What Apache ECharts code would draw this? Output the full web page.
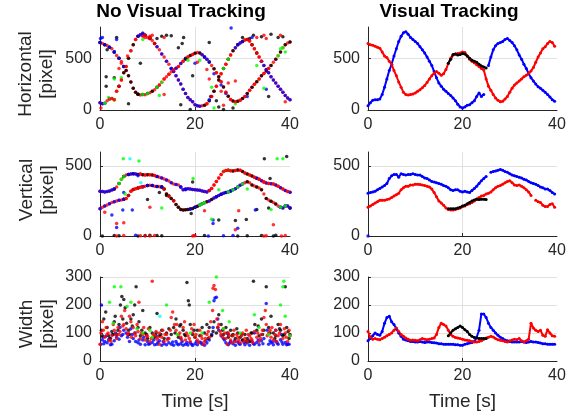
<!DOCTYPE html>
<html>
<head>
<meta charset="utf-8">
<script src="https://cdn.jsdelivr.net/npm/echarts@6/dist/echarts.min.js"></script>
<style>
html, body { margin: 0; padding: 0; background: #fff; }
#chart { width: 575px; height: 417px; }
</style>
</head>
<body>
<div id="chart"></div>
<script>
// time grid (s), every 0.5 s
var T = [0,0.5,1,1.5,2,2.5,3,3.5,4,4.5,5,5.5,6,6.5,7,7.5,8,8.5,9,9.5,10,10.5,11,11.5,12,12.5,13,13.5,14,14.5,15,15.5,16,16.5,17,17.5,18,18.5,19,19.5,20,20.5,21,21.5,22,22.5,23,23.5,24,24.5,25,25.5,26,26.5,27,27.5,28,28.5,29,29.5,30,30.5,31,31.5,32,32.5,33,33.5,34,34.5,35,35.5,36,36.5,37,37.5,38,38.5,39,39.5,40];
var T_BLACK = [17,17.5,18,18.5,19,19.5,20,20.5,21,21.5,22,22.5,23,23.5,24,24.5,25];
var xTicks = [0, 20, 40];
var ticksH = [0, 500];
var ticksV = [0, 500];
var ticksW = [0, 100, 200, 300];

// ---- No visual tracking: two people, detections of 4 colours ----
var hA = [650,640,630,622,605,590,560,525,500,468, 420,380,330,270,210,172,152,145,150,148,
          160,166,180,196,220,240,268,298,320,345, 368,385,402,420,448,470,490,510,525,536,
          546,555,550,532,512,490,462,430,398,360, 320,272,222,172,132,102,86,80,84,95,
          110,130,160,190,220,248,272,300,330,352, 376,400,430,460,490,522,560,600,630,646, 655];
var hB = [70,60,65,90,105,110,100,180,230,290, 360,420,500,570,630,680,710,725,740,720,
          700,690,670,640,610,580,540,510,470,440, 400,370,330,290,250,200,160,120,100,80,
          50,40,35,40,45,60,90,130,180,230, 290,350,400,440,490,530,570,600,630,645,
          660,675,680,665,630,590,550,510,470,430, 390,360,320,290,260,230,200,170,140,115, 100];
var vU = [320,318,315,318,322,328,335,350,375,405, 425,435,440,442,445,443,440,442,438,435,
          437,438,436,432,425,420,415,408,400,392, 380,372,368,365,350,330,335,338,335,332,
          330,328,326,322,318,315,325,340,365,390, 415,440,460,468,470,466,464,468,472,470,
          460,450,442,435,428,420,412,405,395,385, 378,375,374,372,365,355,345,335,325,318, 312];
var vL = [195,205,215,222,230,240,245,250,255,258, 262,268,290,320,332,338,342,348,352,355,
          360,362,360,356,354,352,350,335,300,285, 268,252,225,205,190,185,188,190,192,196,
          205,212,222,230,238,245,250,260,272,280, 290,298,305,310,315,322,330,338,350,362,
          372,380,388,380,365,358,350,342,330,300, 268,258,248,240,228,215,205,200,215,215, 200];

// which detector colour sits on which stretch of each trace: [trace, from, to, every n samples]
var topRedAll   = [['A',0,40,1],['B',0,40,1]];
var topBlackSeg = [['A',0,4,2],['A',5,8,1],['A',8,12,2],['A',19,23,2],['A',24,40,2],['B',4,8,2],['B',9.5,12,2],
                   ['B',22,33,2]];
var topBlueSeg  = [['A',0,3,2],['A',3,5,2],['B',0,1,1],['B',8,9.5,1],['B',12,15,2],['B',15,21,1],['A',21.5,23,1],
                   ['B',28.5,30,1],['B',34,40,1],['A',16,18,2]];
var topGreenSeg = [['B',1,3,2],['A',37.5,39,2],['A',12,13,2],['B',26,27,2],['A',9,10,2]];
var topRedFront = [['A',12.5,20,2],['B',2,4,1],['A',24.5,36,2],['B',22.5,28,2],['B',30.5,34,1],['B',4.5,8,2],['B',9.5,12,2]];

var topBlackOut = [[1.3,320],[1.3,230],[1.5,580],[3.5,700],[8.5,450],[10.5,700],[12,690],[13,710],[14,720],[15,715],
                   [16.5,600],[17.3,640],[17.6,700],[18,500],[19.5,330],[23,650],[23.3,130],[24.5,90],[25,30],[28,20],
                   [30,700],[31.5,690],[32.3,720],[34,705],[36,730],[37.5,700],[38.5,705],[17,50],[19,5],[26,5],
                   [3,310],[35.5,130],[6,60]];
var topRedOut   = [[4,400],[4.5,450],[9,710],[9.5,700],[10.5,712],[11,720],[13.5,700],[20.5,460],[22.5,390],[23,300],
                   [25.5,180],[27,260],[28.5,280],[33,700],[34.5,720],[35,690],[38,720],[39,80],[26,45],[13.5,150],
                   [5.8,520],[0.2,20]];
var topBlueOut  = [[0.5,700],[20,450],[27.6,790],[23,100],[25.5,240],[32,700],[9,720],[26.5,160],[24,350],[35,200],
                   [3.5,680],[31,130],[0.1,690]];
var topGreenOut = [[1.8,120],[3,300],[4.5,310],[9,680],[18.5,480],[21,480],[24,20],[28.5,60],[33,430],[34.5,210],
                   [38,590],[39,560],[12.5,140],[23.5,220]];
var topCyanOut  = [[2.2,110]];

var midRedAll   = [['U',0,40,1],['L',0,40,1]];
var midBlackSeg = [['U',3,5,2],['U',5,12,2],['U',27,33,2],['L',5,13,2],['L',13,20,1],['L',20.5,28,2],['L',31,40,2]];
var midBlueSeg  = [['U',0,3,1],['U',6,8,1],['U',12,17,2],['U',17,23,1],['U',33,40,2],['L',0,5,2],['L',9,13,2],
                   ['L',19,23,2],['L',24,30,1],['L',38,40,1]];
var midGreenSeg = [['L',27,30,2],['U',4,5,1],['L',38,39.5,2],['U',26,27,2],['L',21,22,1]];
var midRedFront = [['U',23,27,1],['L',13.5,16,2],['U',27.5,35,2],['L',5.5,9,1],['U',8.5,12,2],['U',33.5,40,2]];

var midBlackOut = [[0.5,0],[3,3],[4,2],[8,0],[9.5,3],[10.5,5],[12,3],[13,2],[22,3],[29,0],[31,2],[34,3],[36.5,0],[37,5],
                   [34.6,552],[39.3,568],[19.5,385],[19.2,160],[25,115],[28.5,110],[30.8,118],[35.5,200],[35.8,410],
                   [10,260],[33,190],[14,290],[12.5,310]];
var midRedOut   = [[3.5,0],[5,3],[8.5,2],[9.5,0],[10.5,0],[11.5,3],[19.5,0],[19.8,3],[20,2],[34.5,0],[35,2],[38.2,0],[39,3],
                   [3.5,90],[10.5,205],[28.5,45],[36.5,80],[22,180],[5,95],[29.2,180],[1,170]];
var midBlueOut  = [[22.8,0],[26,2],[28,3],[7.5,5],[2.5,150],[4.8,185],[6.8,185],[23.8,90],[23.8,115],[29,55],[32.7,185],
                   [5,310],[8,430],[18,330],[3.5,60]];
var midGreenOut = [[4.9,552],[8.2,535],[19.6,410],[13,200],[23.5,120],[37.3,552],[38.5,552],[36,190],[5.3,300],[25,330],[31,335]];
var midCyanOut  = [[6.3,552],[8.6,380]];

var lowBlue  = [[0.3,200],[0.2,60],[0.5,75],[1,70],[1.5,65],[2,80],[2.5,60],[3,72],[3.5,85],[4,78],[4.5,90],[5,110],[5.5,100],
                [6,95],[6.5,115],[7,80],[7.5,70],[8,65],[8.5,60],[9,75],[9.5,58],[10,70],[10.5,62],[11,66],[11.5,58],[12,60],
                [12.5,72],[13,56],[13.5,62],[14,58],[14.5,65],[15,60],[15.5,56],[16,70],[16.5,58],[17,62],[17.5,56],[18,60],
                [18.5,57],[19,65],[19.5,55],[20,62],[20.5,58],[21,68],[21.5,60],[22,56],[22.5,64],[23,75],[23.5,95],[23.8,120],
                [24,215],[24.2,225],[24.5,228],[24.8,150],[25,110],[25.5,90],[26,80],[26.5,65],[27,58],[27.5,70],[28,62],
                [28.5,56],[29,68],[29.5,60],[30,74],[30.5,58],[31,64],[31.5,56],[32,70],[32.5,60],[33,66],[33.5,58],[34,72],
                [34.5,80],[35,205],[35.2,110],[35.5,60],[36,65],[36.5,58],[37,70],[37.5,60],[38,76],[38.5,60],[39,66],[39.5,60],
                [1.2,88],[6.8,95],[11.8,90],[17,80],[27,95],[32.5,100],[37,110],[38.2,95],[39.8,60],[0.8,62],[2.2,58],
                [0.6,85],[1.8,75],[2.6,95],[3.3,100],[4.2,120],[4.8,95],[5.8,85],[6.2,70],[7.4,100],[8.2,75],[9.2,85],
                [10.2,60],[11.3,75],[12.2,66],[13.3,70],[14.3,80],[15.3,68],[16.2,62],[17.3,70],[18.3,66],[19.3,60],
                [20.3,70],[21.3,65],[22.3,72],[26.2,75],[27.3,64],[28.3,72],[29.3,62],[30.3,66],[31.3,72],[32.3,62],
                [33.3,75],[34.3,62],[35.8,72],[36.3,68],[37.3,64],[38.3,68],[39.3,58]];
var lowBlack = [[0.3,110],[0.8,150],[1.2,175],[1.8,90],[2.5,105],[3,140],[3.2,160],[3.5,95],[4,130],[4.3,200],[4.6,230],
                [5,220],[5.3,190],[5.6,135],[6,110],[6.5,150],[7,165],[7.3,200],[7.6,265],[8,120],[8.5,90],[9,180],[9.5,100],
                [10,80],[11,100],[11.5,85],[12,170],[12.5,90],[13,110],[13.5,80],[14,100],[15,95],[15.5,120],[16,150],
                [16.5,85],[17,130],[17.5,110],[18,90],[18.3,280],[18.6,215],[18.8,200],[19,130],[19.5,95],[20,85],[20.5,110],
                [21,90],[22,100],[22.5,130],[23,120],[23.5,90],[24,140],[24.5,100],[25,165],[25.5,130],[26,95],[26.5,120],
                [27,85],[27.5,110],[28,95],[28.5,80],[29,100],[29.5,85],[30,75],[30.5,95],[31,80],[31.5,70],[32,100],
                [32.3,285],[32.6,130],[33,110],[33.5,90],[34,150],[34.5,110],[35,265],[35.5,120],[36,160],[36.5,100],[37,90],
                [37.5,130],[38,110],[38.5,90],[39,265],[39.3,120],[39.6,105],[40,95],
                [0.5,90],[1.5,120],[2.2,80],[2.8,95],[3.8,110],[4.8,150],[6.2,95],[6.8,125],[8.2,140],[8.8,110],[9.8,95],
                [10.5,120],[11.8,100],[12.8,95],[14.5,115],[15.8,100],[16.8,125],[17.8,95],[19.8,110],[21.5,120],[22.8,80],
                [23.8,105],[24.8,120],[25.8,110],[26.8,100],[27.8,90],[28.8,115],[29.8,95],[30.8,70],[31.8,100],[33.3,125],
                [34.2,95],[35.8,100],[36.8,80],[37.8,115],[38.8,95],[39.8,80]];
var lowRed   = [[0,60],[0.2,100],[0.5,140],[1,85],[1.5,95],[2,75],[2.5,90],[3,110],[3.5,80],[4,95],[4.5,160],[5,130],[5.2,180],
                [5.5,115],[6,100],[6.5,140],[7,120],[7.5,90],[8,105],[8.2,210],[8.5,80],[9,95],[9.5,75],[10,88],[10.5,70],
                [11,285],[11.5,90],[12,78],[12.5,100],[13,85],[13.5,70],[14,95],[14.5,80],[15,155],[15.3,175],[15.7,130],
                [16,110],[16.5,95],[17,85],[17.5,120],[18,75],[18.5,90],[19,70],[19.5,100],[20,85],[20.5,75],[21,110],[21.5,80],
                [22,70],[22.5,95],[23,85],[23.3,140],[23.7,180],[23.8,260],[24,270],[24.3,255],[24.6,150],[25,130],[25.5,95],
                [26,115],[26.5,80],[27,100],[27.5,75],[28,90],[28.5,70],[29,85],[29.5,65],[30,100],[30.5,80],[31,70],[31.5,90],
                [32,75],[32.5,105],[33,85],[33.5,70],[34,95],[34.5,155],[34.8,180],[35,130],[35.5,100],[36,85],[36.5,75],
                [37,110],[37.5,90],[38,130],[38.5,80],[39,100],[39.5,70],[40,90],[2.8,130],[9.2,120],[13.2,110],[19.8,130],
                [28.2,110],[36.2,120],[6.2,160],[17.8,140],[30.8,110],[26.8,60],[21.8,60],[12.5,60],
                [0.7,110],[1.3,120],[1.7,100],[2.3,70],[3.3,95],[3.8,120],[4.2,105],[4.8,125],[5.8,95],[6.6,85],[7.3,100],
                [7.8,130],[8.7,100],[9.8,90],[10.2,115],[10.8,80],[11.2,95],[11.8,105],[12.2,85],[13.7,95],[14.2,75],
                [14.8,110],[16.2,130],[16.8,100],[17.2,75],[18.2,100],[18.8,80],[19.3,115],[20.2,95],[20.8,65],[21.3,90],
                [22.2,80],[22.8,105],[24.8,120],[25.3,105],[25.8,85],[26.3,100],[27.2,90],[27.8,65],[28.8,95],[29.2,75],
                [29.8,90],[30.3,70],[31.2,95],[31.8,80],[32.2,65],[33.2,100],[33.8,80],[34.2,110],[35.2,90],[35.8,110],
                [36.8,95],[37.2,70],[37.8,100],[38.8,115],[39.2,85],[39.8,110]];
var lowGreen = [[2,210],[2.8,135],[3,265],[4.4,265],[5.7,195],[6.5,210],[7.8,115],[9,100],[10.5,110],[11,85],[14,200],
                [16.3,95],[19,100],[21.5,100],[23,210],[24.5,300],[25.8,180],[26,115],[27.2,140],[29.5,100],[32.5,165],
                [33.5,120],[35.5,95],[38,200],[38.5,265],[38.7,285],[39,160],[40,90]];
var lowCyan  = [[12.6,160]];

// ---- Visual tracking: clean tracks (null = track lost) ----
var rHr = [640,630,625,615,605,595,560,520,505,470, 440,380,330,270,220,170,150,145,150,155,
           165,180,195,215,235,265,300,330,355,370, 355,335,350,390,450,500,530,540,545,550,
           560,555,520,490,470,455,435,420,400,385, 300,230,190,150,115,95,80,85,105,130,
           170,210,240,260,280,300,320,335,355,375, 410,460,510,550,590,610,640,660,650,615, null];
var rHb = [40,70,95,100,100,105,150,220,300,380, 440,520,590,660,710,745,755,730,700,680,
           660,640,610,580,550,510,470,430,370,310, 260,230,200,180,160,140,115,90,55,30,
           20,30,45,50,70,90,130,165,130,150, null,430,510,580,620,640,650,660,680,690,
           670,650,620,580,530,490,440,400,350,310, 280,250,225,210,190,170,150,125,100,85, null];
var rHk = [450,490,535,540,530,535,545,540,520,500,480,470,460,440,425,415,405];

var rVb = [305,310,315,320,330,340,350,360,375,410, 430,440,440,420,445,440,435,440,440,445,
           440,435,435,425,415,410,400,390,385,380, 375,370,360,355,345,330,325,330,330,320,
           315,320,315,310,325,340,355,375,395,410, 425,null,455,460,465,470,475,470,460,455,
           445,435,430,425,420,415,405,400,390,380, 375,370,360,350,345,335,335,325,310,300, null];
var rVr = [205,215,225,235,245,255,255,255,260,265, 275,285,295,305,330,345,355,355,365,365,
           370,370,368,365,360,355,350,335,310,280, 250,235,220,200,190,185,185,190,195,200,
           210,215,225,230,240,250,265,275,285,290, 300,305,315,330,345,355,360,370,380,390,
           395,380,365,360,365,355,345,330,315,290, null,255,245,240,220,210,210,225,230,205, null];
var rVk = [195,195,195,195,200,205,215,220,230,240,250,258,262,260,262,262,260];
var rVbStart = [[0,0]];

var rWb = [72,80,90,100,95,92,105,135,155,160, 140,130,115,100,88,78,75,72,70,70,
           68,68,70,68,66,68,68,66,65,64, 62,62,60,60,60,60,60,58,58,56,
           56,60,62,64,66,70,85,110,168,168, 155,135,120,110,100,92,85,80,75,72,
           70,68,68,68,68,70,68,66,68,70, 68,68,66,64,62,62,60,60,60,60, null];
var rWr = [105,85,78,80,78,76,80,85,90,95, 100,110,118,105,95,88,82,78,74,75,
           74,72,76,80,78,76,78,80,82,95, 120,135,130,125,110,95,88,84,82,80,
           78,75,74,72,70,68,68,70,72,78, 82,85,88,86,80,76,74,72,70,68,
           72,75,78,76,80,72,68,72,78,135, 118,110,105,110,92,88,112,100,90,88, null];
var rWk = [90,100,110,115,120,125,120,112,105,95,88,84,82,80,80,80,80];

var RED = '#ff0000', BLUE = '#0000ff', BLACK = '#000000', GREEN = '#00ff00', CYAN = '#00ffff';
var INK = '#262626';
var FONT = '"Liberation Sans", Arial, Helvetica, sans-serif';

var traces = { A: hA, B: hB, U: vU, L: vL };

function pairs(ts, vs) {
    var out = [];
    for (var i = 0; i < ts.length; i++) {
        out.push([ts[i], vs[i] == null ? '-' : vs[i]]);
    }
    return out;
}

function along(segs) {
    var out = [];
    segs.forEach(function (s) {
        var tr = traces[s[0]];
        for (var i = Math.round(s[1] * 2); i <= Math.round(s[2] * 2); i += s[3]) {
            out.push([T[i], tr[i]]);
        }
    });
    return out;
}

function dots(g, color, data) {
    return {
        type: 'scatter', xAxisIndex: g, yAxisIndex: g, data: data,
        symbolSize: 3.5, itemStyle: { color: color }, silent: true, animation: false
    };
}

// tracked target: dense dots joined into a thick trail
function track(g, color, data) {
    return {
        type: 'line', xAxisIndex: g, yAxisIndex: g, data: data,
        symbol: 'circle', symbolSize: 3, showSymbol: true, showAllSymbol: true,
        connectNulls: false, lineStyle: { color: color, width: 2 },
        itemStyle: { color: color }, silent: true, animation: false
    };
}

var grids = [
    { left: 100, top: 27, width: 190, height: 83 },
    { left: 368, top: 27, width: 189, height: 83 },
    { left: 100, top: 152, width: 190, height: 84 },
    { left: 368, top: 152, width: 189, height: 84 },
    { left: 100, top: 277, width: 190, height: 84 },
    { left: 368, top: 277, width: 189, height: 84 }
];

var xAxes = grids.map(function (g, i) {
    return {
        gridIndex: i, type: 'value', min: 0, max: 40, interval: 20,
        name: i >= 4 ? 'Time [s]' : '',
        nameLocation: 'middle', nameGap: 31,
        nameTextStyle: { color: INK, fontSize: 19, fontFamily: FONT },
        axisLine: { show: true, onZero: false, lineStyle: { color: INK, width: 1 } },
        axisTick: { inside: true, length: 3, customValues: [0, 20], lineStyle: { color: INK } },
        axisLabel: { customValues: xTicks, color: INK, fontSize: 16, fontFamily: FONT, margin: 7 },
        splitLine: { show: true, lineStyle: { color: '#e1e1e1', width: 1 } }
    };
});

var yMax = [800, 600, 300];
var ySteps = [500, 500, 100];
var yTickSets = [ticksH, ticksV, ticksW];
var yAxes = grids.map(function (g, i) {
    var r = Math.floor(i / 2);
    return {
        gridIndex: i, type: 'value', min: 0, max: yMax[r], interval: ySteps[r],
        axisLine: { show: true, lineStyle: { color: INK, width: 1 } },
        axisTick: { inside: true, length: 3, customValues: yTickSets[r], lineStyle: { color: INK } },
        axisLabel: { customValues: yTickSets[r], color: INK, fontSize: 16, fontFamily: FONT, margin: 8 },
        splitLine: { show: true, lineStyle: { color: '#e1e1e1', width: 1 } }
    };
});

var series = [
    // left top
    dots(0, RED, along(topRedAll)),
    dots(0, BLACK, along(topBlackSeg)),
    dots(0, BLUE, along(topBlueSeg)),
    dots(0, GREEN, along(topGreenSeg)),
    dots(0, BLACK, topBlackOut),
    dots(0, BLUE, topBlueOut),
    dots(0, GREEN, topGreenOut),
    dots(0, CYAN, topCyanOut),
    dots(0, RED, topRedOut),
    dots(0, RED, along(topRedFront)),
    // right top
    track(1, BLUE, pairs(T, rHb)),
    track(1, RED, pairs(T, rHr)),
    track(1, BLACK, pairs(T_BLACK, rHk)),
    // left middle
    dots(2, RED, along(midRedAll)),
    dots(2, BLACK, along(midBlackSeg)),
    dots(2, BLUE, along(midBlueSeg)),
    dots(2, GREEN, along(midGreenSeg)),
    dots(2, BLACK, midBlackOut),
    dots(2, BLUE, midBlueOut),
    dots(2, GREEN, midGreenOut),
    dots(2, CYAN, midCyanOut),
    dots(2, RED, midRedOut),
    dots(2, RED, along(midRedFront)),
    // right middle
    track(3, BLUE, pairs(T, rVb)),
    dots(3, BLUE, rVbStart),
    track(3, RED, pairs(T, rVr)),
    track(3, BLACK, pairs(T_BLACK, rVk)),
    // left bottom
    dots(4, BLUE, lowBlue),
    dots(4, BLACK, lowBlack),
    dots(4, RED, lowRed),
    dots(4, GREEN, lowGreen),
    dots(4, CYAN, lowCyan),
    // right bottom
    track(5, BLUE, pairs(T, rWb)),
    track(5, RED, pairs(T, rWr)),
    track(5, BLACK, pairs(T_BLACK, rWk))
];

function label(x, y, text) {
    return {
        type: 'text', x: x, y: y, rotation: Math.PI / 2, silent: true,
        style: { text: text, font: '19px ' + FONT, fill: INK, align: 'center', verticalAlign: 'middle',
                 textAlign: 'center', textVerticalAlign: 'middle', lineHeight: 21 }
    };
}
function title(x, text) {
    return {
        type: 'text', x: x, y: 12, silent: true,
        style: { text: text, font: 'bold 19px ' + FONT, fill: '#000', align: 'center', verticalAlign: 'middle',
                 textAlign: 'center', textVerticalAlign: 'middle' }
    };
}

var chart = echarts.init(document.getElementById('chart'));
chart.setOption({
    backgroundColor: '#ffffff',
    animation: false,
    grid: grids,
    xAxis: xAxes,
    yAxis: yAxes,
    series: series,
    graphic: [
        title(181, 'No Visual Tracking'),
        title(449, 'Visual Tracking'),
        label(36, 74, 'Horizontal\n[pixel]'),
        label(37, 190, 'Vertical\n[pixel]'),
        label(37, 324, 'Width\n[pixel]')
    ]
});
window.onresize = chart.resize;
</script>
</body>
</html>
